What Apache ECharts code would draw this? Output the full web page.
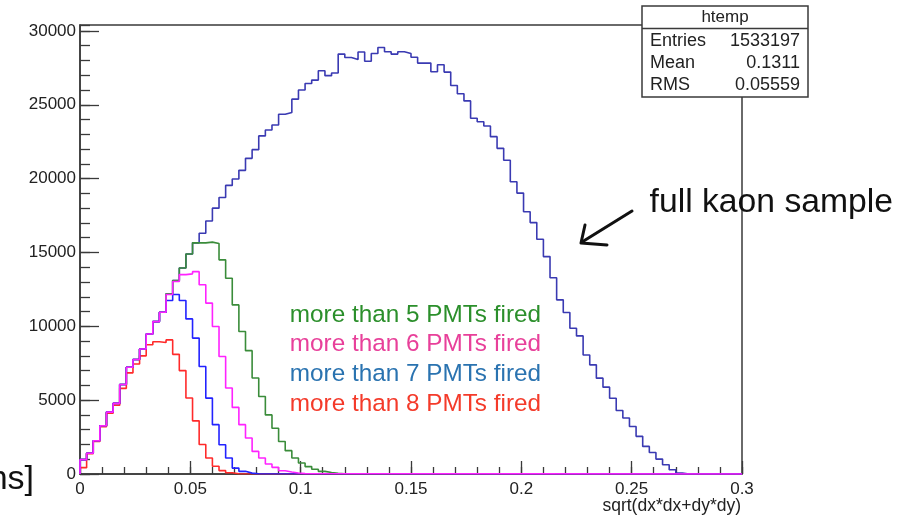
<!DOCTYPE html>
<html><head><meta charset="utf-8">
<script src="https://cdn.jsdelivr.net/npm/echarts@6/dist/echarts.min.js"></script>
<style>html,body{margin:0;padding:0;background:#fff}#c{width:915px;height:516px}</style>
</head><body><div id="c"></div>
<script>
// ---- data ----
const binWidth = 0.003;      // 100 bins from 0 to 0.3
const xTickLabels = ['0', '0.05', '0.1', '0.15', '0.2', '0.25', '0.3'];
const yTickLabels = ['0', '5000', '10000', '15000', '20000', '25000', '30000'];

const fullSample = [970,1400,2255,3270,4190,4780,6060,7230,7750,8460,
  9480,10320,10950,12200,13100,13950,14900,15650,16300,17130,
  18000,18720,19540,19970,20560,21370,21960,22890,23290,23630,
  24360,24480,25380,26000,26440,26670,27300,26970,27150,28430,
  28200,28070,28570,27950,28470,28880,28590,28430,28590,28470,
  28220,27820,27820,27230,27710,27210,26300,25750,25260,24090,
  23850,23560,22840,22050,21240,19790,19020,17760,17020,15890,
  14720,13290,11790,10930,9870,9350,8060,7390,6490,5880,
  5130,4300,3790,3220,2550,1870,1460,1010,630,290,
  65,0,0,0,0,0,0,0,0,0];
const moreThan5 = [970,1400,2255,3270,4190,4780,6060,7230,7750,8460,
  9480,10320,10950,12200,13100,13950,14900,15650,15650,15700,
  15600,14500,13250,11450,9650,8350,6500,5250,4000,3100,
  2200,1580,1080,740,500,320,180,100,50,20];
const moreThan6 = [970,1400,2255,3270,4190,4780,6060,7230,7750,8460,
  9480,10320,10950,12150,13030,13500,13550,13700,12810,11570,
  9990,7960,5820,4510,3340,2440,1530,1080,680,450,
  225,135,70,30];
const moreThan7 = [970,1400,2255,3270,4190,4780,6060,7230,7750,8460,
  9480,10320,10950,11750,12150,11750,10500,9200,7280,5140,
  3340,1985,1080,400,180,60,20];
const moreThan8 = [430,1380,2200,3200,4120,4650,5800,6850,7450,8000,
  8750,8950,8900,9080,8100,7000,5150,3600,2000,1080,
  520,230,80,20];

const seriesNames = ['full kaon sample', 'more than 5 PMTs fired', 'more than 8 PMTs fired',
  'more than 7 PMTs fired', 'more than 6 PMTs fired'];
const statsTitle = 'htemp';
const statsLabels = ['Entries', 'Mean', 'RMS'];
const statsValues = ['1533197', '0.1311', '0.05559'];
const xTitle = 'sqrt(dx*dx+dy*dy)';
const legendTexts = ['more than 5 PMTs fired', 'more than 6 PMTs fired',
  'more than 7 PMTs fired', 'more than 8 PMTs fired'];
const legendColors = ['#2b8f2b', '#e8409a', '#2a73b0', '#f43a2a'];
const annotation = 'full kaon sample';
const cutText = 'ns]';

// ---- helpers ----
const XMAX = 0.3;
function stepData(vals) {
  const d = [[0, 0]];
  vals.forEach((v, i) => d.push([+(i * binWidth).toFixed(4), v]));
  const end = +(vals.length * binWidth).toFixed(4);
  d.push([end, vals[vals.length - 1]]);
  if (end < XMAX) { d.push([end, 0]); d.push([XMAX, 0]); }
  return d;
}

const FONT = '"Liberation Sans", Arial, Helvetica, sans-serif';
const AX = '#3a3a3a';

const lineColors = ['#3a3ab2', '#3a8c3a', '#ff2a2a', '#2222ff', '#ff22ff'];
const seriesData = [fullSample, moreThan5, moreThan8, moreThan7, moreThan6];

const chart = echarts.init(document.getElementById('c'), null, {renderer: 'canvas'});

const series = seriesData.map((vals, k) => ({
  name: seriesNames[k],
  type: 'line',
  step: 'end',
  data: stepData(vals),
  showSymbol: false,
  symbol: 'none',
  xAxisIndex: 0,
  yAxisIndex: 0,
  lineStyle: {color: lineColors[k], width: 1.6},
  itemStyle: {color: lineColors[k]},
  animation: false,
  z: 3 + k
}));

const graphics = [];
// stats box
const bx = 642, by = 6, bw = 166, bh = 91;
graphics.push({type: 'rect', z: 100, shape: {x: bx, y: by, width: bw, height: bh},
  style: {fill: '#fff', stroke: AX, lineWidth: 1.5}});
graphics.push({type: 'line', z: 101, shape: {x1: bx, y1: 28.5, x2: bx + bw, y2: 28.5},
  style: {stroke: AX, lineWidth: 1.5}});
graphics.push({type: 'text', z: 101, x: bx + bw / 2, y: 17,
  style: {text: statsTitle, fill: '#222', font: '17px ' + FONT, textAlign: 'center', textVerticalAlign: 'middle'}});
statsLabels.forEach((t, i) => {
  const yy = 41.5 + i * 21.7;
  graphics.push({type: 'text', z: 101, x: 650, y: yy,
    style: {text: t, fill: '#222', font: '18px ' + FONT, textAlign: 'left', textVerticalAlign: 'middle'}});
  graphics.push({type: 'text', z: 101, x: 800, y: yy,
    style: {text: statsValues[i], fill: '#222', font: '18px ' + FONT, textAlign: 'right', textVerticalAlign: 'middle'}});
});
// legend texts
legendTexts.forEach((t, i) => {
  graphics.push({type: 'text', z: 50, x: 541, y: 315 + i * 29.7,
    style: {text: t, fill: legendColors[i], font: '24.3px ' + FONT, textAlign: 'right', textVerticalAlign: 'middle'}});
});
// annotation
graphics.push({type: 'text', z: 50, x: 893, y: 203,
  style: {text: annotation, fill: '#111', font: '33.7px ' + FONT, textAlign: 'right', textVerticalAlign: 'middle'}});
graphics.push({type: 'polyline', z: 50, shape: {points: [[632, 211], [582, 242]]},
  style: {stroke: '#111', lineWidth: 3, fill: null, lineCap: 'round'}});
graphics.push({type: 'polyline', z: 50, shape: {points: [[585, 225], [581, 243], [607, 245]]},
  style: {stroke: '#111', lineWidth: 3, fill: null, lineCap: 'round', lineJoin: 'round'}});
// x title
graphics.push({type: 'text', z: 50, x: 741, y: 506,
  style: {text: xTitle, fill: '#222', font: '17.5px ' + FONT, textAlign: 'right', textVerticalAlign: 'middle'}});
// cut slide text
graphics.push({type: 'text', z: 50, x: 34, y: 480,
  style: {text: cutText, fill: '#111', font: '34px ' + FONT, textAlign: 'right', textVerticalAlign: 'middle'}});

const tickLabelStyle = {color: '#222', fontSize: 17, fontFamily: FONT};

const option = {
  animation: false,
  backgroundColor: '#fff',
  grid: {left: 80, right: 173, top: 25, bottom: 42, show: true, borderColor: AX, borderWidth: 1.5, backgroundColor: 'transparent'},
  xAxis: [
    {type: 'value', min: 0, max: XMAX, interval: 0.01, position: 'bottom',
      axisLine: {show: true, lineStyle: {color: AX, width: 1.5}},
      axisTick: {show: true, inside: true, length: 7, lineStyle: {color: AX, width: 1.3}},
      axisLabel: {show: false}, splitLine: {show: false}},
    {type: 'value', min: 0, max: XMAX, interval: 0.05, position: 'bottom',
      axisLine: {show: false},
      axisTick: {show: true, inside: true, length: 13, lineStyle: {color: AX, width: 1.3}},
      axisLabel: Object.assign({show: true, margin: 7,
        formatter: v => xTickLabels[Math.round(v / 0.05)] || ''}, tickLabelStyle),
      splitLine: {show: false}}
  ],
  yAxis: [
    {type: 'value', min: 0, max: 30400, interval: 1000, position: 'left',
      axisLine: {show: true, lineStyle: {color: AX, width: 1.5}},
      axisTick: {show: true, inside: true, length: 10, lineStyle: {color: AX, width: 1.3}},
      axisLabel: {show: false}, splitLine: {show: false}},
    {type: 'value', min: 0, max: 30400, interval: 5000, position: 'left',
      axisLine: {show: false},
      axisTick: {show: true, inside: true, length: 19, lineStyle: {color: AX, width: 1.3}},
      axisLabel: Object.assign({show: true, margin: 4, showMaxLabel: false,
        formatter: v => (v % 5000 === 0 ? (yTickLabels[v / 5000] || '') : '')}, tickLabelStyle),
      splitLine: {show: false}}
  ],
  series: series,
  graphic: graphics
};
chart.setOption(option);
</script></body></html>
